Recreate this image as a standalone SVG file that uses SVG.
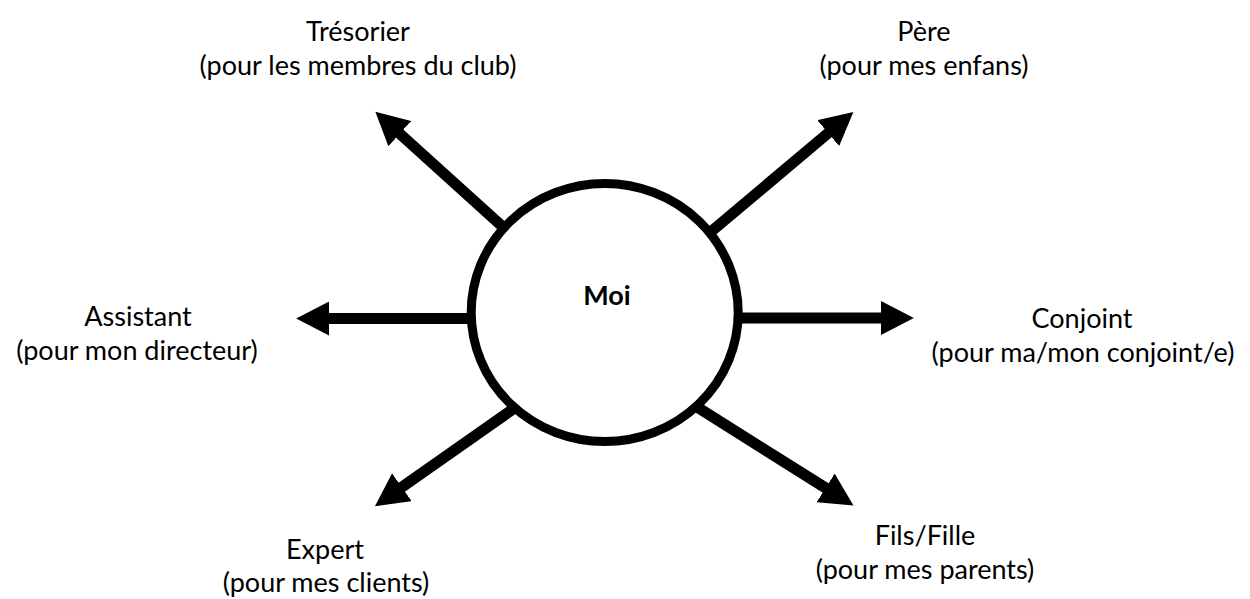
<svg xmlns="http://www.w3.org/2000/svg" width="1250" height="599" viewBox="0 0 1250 599">
<style>
  .lbl { font-family: Lato, "Liberation Sans", sans-serif; font-size: 27px; fill: #000; text-anchor: middle; }
  .moi { font-family: Lato, "Liberation Sans", sans-serif; font-size: 27px; font-weight: bold; fill: #000; text-anchor: middle; }
  .conn { stroke: #000; stroke-width: 11; fill: none; marker-end: url(#ah); }
</style>
<defs>
  <marker id="ah" markerUnits="userSpaceOnUse" markerWidth="34" markerHeight="34" viewBox="0 0 32 32" refX="1" refY="16" orient="auto">
    <path d="M0,0 L31,16 L0,32 z" fill="#000"/>
  </marker>
</defs>
<rect width="1250" height="599" fill="#fff"/>
<g id="connectors">
  <line class="conn" x1="510.4" y1="233.7" x2="399" y2="133"/>
  <line class="conn" x1="705.4" y1="236.4" x2="829" y2="132.4"/>
  <line class="conn" x1="475" y1="318.5" x2="328" y2="318.5"/>
  <line class="conn" x1="735" y1="318" x2="882" y2="318"/>
  <line class="conn" x1="519.9" y1="404.2" x2="401" y2="487.8"/>
  <line class="conn" x1="688.5" y1="401.6" x2="826.5" y2="488.5"/>
</g>
<g id="moi">
  <ellipse cx="604.7" cy="312.5" rx="133.5" ry="129" fill="#fff" stroke="#000" stroke-width="9"/>
  <text class="moi" x="607" y="305">Moi</text>
</g>
<g id="tresorier">
  <text class="lbl" x="358" y="41">Trésorier</text>
  <text class="lbl" x="358" y="75">(pour les membres du club)</text>
</g>
<g id="pere">
  <text class="lbl" x="924" y="41">Père</text>
  <text class="lbl" x="924" y="75">(pour mes enfans)</text>
</g>
<g id="assistant">
  <text class="lbl" x="138" y="326">Assistant</text>
  <text class="lbl" x="137" y="360">(pour mon directeur)</text>
</g>
<g id="conjoint">
  <text class="lbl" x="1082" y="328">Conjoint</text>
  <text class="lbl" x="1083" y="362">(pour ma/mon conjoint/e)</text>
</g>
<g id="expert">
  <text class="lbl" x="325" y="559">Expert</text>
  <text class="lbl" x="326" y="592">(pour mes clients)</text>
</g>
<g id="fils">
  <text class="lbl" x="925" y="545">Fils/Fille</text>
  <text class="lbl" x="925" y="579">(pour mes parents)</text>
</g>
</svg>
